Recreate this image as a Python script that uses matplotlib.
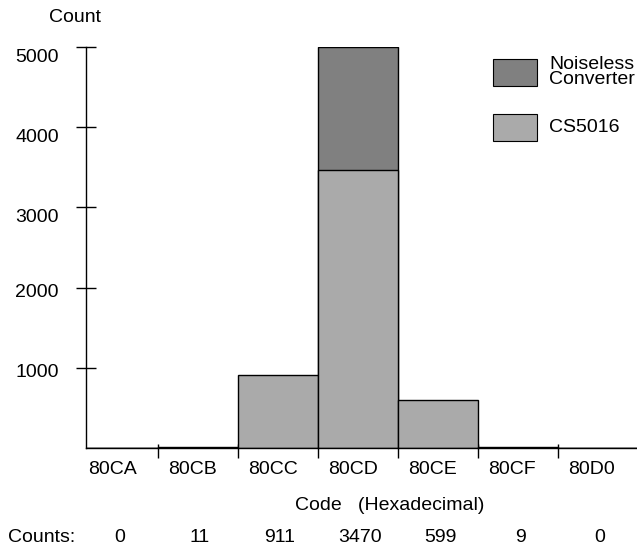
import numpy as np
import matplotlib
matplotlib.use("Agg")
import matplotlib.pyplot as plt
from matplotlib.patches import Rectangle
from matplotlib.transforms import ScaledTranslation

plt.rcParams["font.family"] = ["Liberation Sans", "DejaVu Sans"]

CODES = ["80CA", "80CB", "80CC", "80CD", "80CE", "80CF", "80D0"]
CS5016 = [0, 11, 911, 3470, 599, 9, 0]
NOISELESS = [0, 0, 0, 5000, 0, 0, 0]
YTICKS = [1000, 2000, 3000, 4000, 5000]
YLABEL_DROP = [5, 5, 10, 10, 10]     # px the printed label sits below its tick

DARK = "#808080"
LIGHT = "#aaaaaa"
FS = 14
DPI = 100
W, H = 637, 554

fig = plt.figure(figsize=(W / DPI, H / DPI), dpi=DPI)
# axis corner at (86, 448) px, top of y axis at 47 px
ax = fig.add_axes([86 / W, (H - 448) / H, (W - 86) / W, (448 - 47) / H])

x = np.arange(len(CODES)) + 0.5
ax.bar(x, NOISELESS, width=1.0, color=DARK, edgecolor="black", linewidth=1, zorder=2)
ax.bar(x, CS5016, width=1.0, color=LIGHT, edgecolor="black", linewidth=1, zorder=3)

ax.set_xlim(0.1, 0.1 + (W - 86) / 80)
ax.set_ylim(0, 5000)
for s in ("top", "right"):
    ax.spines[s].set_visible(False)
for s in ("left", "bottom"):
    ax.spines[s].set_linewidth(1)
    ax.spines[s].set_zorder(4)

ax.set_xticks(np.arange(1, len(CODES)))
ax.set_xticks(np.arange(1, len(CODES)), minor=True)
ax.xaxis.remove_overlapping_locs = False
ax.tick_params(axis="x", which="major", direction="out", length=7.2, width=1, labelbottom=False)
ax.tick_params(axis="x", which="minor", direction="in", length=2.9, width=1, labelbottom=False)
ax.set_yticks(YTICKS)
ax.tick_params(axis="y", direction="inout", length=15.1, width=1, labelleft=False)

def px(dx, dy):
    return ScaledTranslation(dx / DPI, dy / DPI, fig.dpi_scale_trans)

# y tick labels
for v, drop in zip(YTICKS, YLABEL_DROP):
    ax.text(0, v, str(v), transform=ax.get_yaxis_transform() + px(-27, -drop),
            ha="right", va="center", fontsize=FS)

# x category labels, left-aligned a little inside each bin
xtr = ax.get_xaxis_transform()
for i, c in enumerate(CODES):
    ax.text(i + 0.125, 0, c, transform=xtr + px(0, -22), ha="left", va="center",
            fontsize=FS, clip_on=False)

# counts row
for xi, n in zip(x, CS5016):
    ax.text(xi, 0, str(n), transform=xtr + px(2, -90), ha="center", va="center",
            fontsize=FS, clip_on=False)
fig.text(8 / W, 1 - 538 / H, "Counts:", ha="left", va="center", fontsize=FS)

fig.text(75 / W, 1 - 17 / H, "Count", ha="center", va="center", fontsize=FS)
fig.text(390 / W, 1 - 506 / H, "Code   (Hexadecimal)", ha="center", va="center", fontsize=FS)

# legend
for (y0, col) in ((59, DARK), (114, LIGHT)):
    fig.add_artist(Rectangle((493 / W, 1 - (y0 + 27) / H), 44 / W, 27 / H,
                             transform=fig.transFigure, facecolor=col,
                             edgecolor="black", linewidth=0.8))
fig.text(549 / W, 1 - 72 / H, "Noiseless\nConverter", ha="left", va="center",
         fontsize=FS, linespacing=0.9)
fig.text(549 / W, 1 - 127 / H, "CS5016", ha="left", va="center", fontsize=FS)

fig.savefig("out.png", dpi=DPI)
